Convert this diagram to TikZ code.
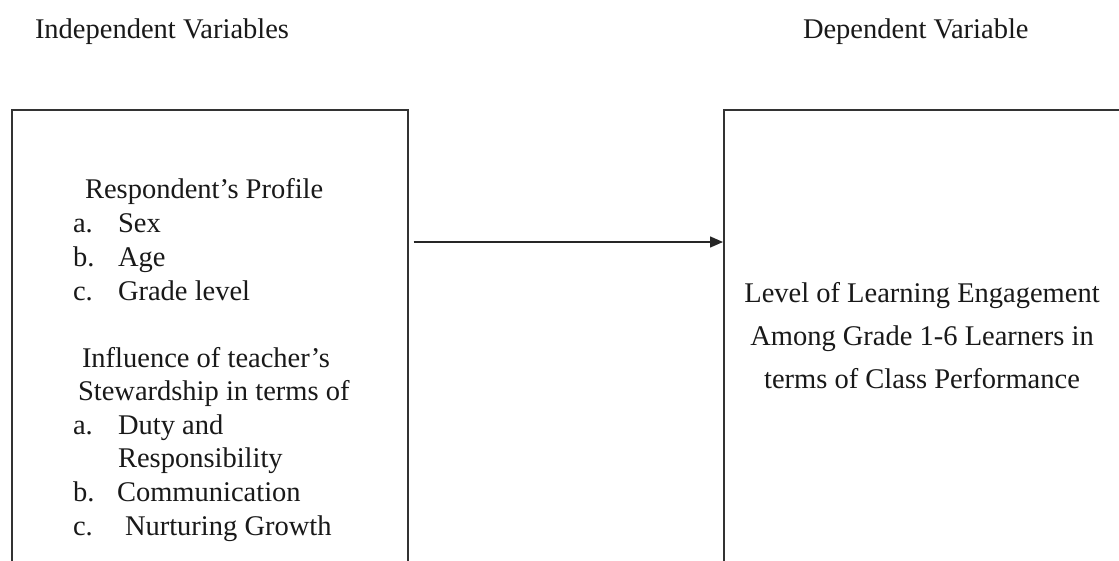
\documentclass[tikz,border=0pt]{standalone}
\usepackage{fontspec}
\setmainfont{Liberation Serif}
\usetikzlibrary{arrows.meta}
\begin{document}
\begin{tikzpicture}[x=1pt,y=-1pt,
  txt/.style={inner sep=0pt,outer sep=0pt,anchor=base west,font=\fontsize{28.5}{34}\selectfont,text=black!90},
  ctxt/.style={txt,anchor=base},
  frame/.style={draw=black!80,line width=1.6pt,rectangle,inner sep=0pt,anchor=north west},
  link/.style={draw=black!85,line width=1.4pt,-{Triangle[length=13pt,width=11pt]}}]
\useasboundingbox (0,0) rectangle (1119,560);
\clip (0,0) rectangle (1119,560);
\fill[white] (0,0) rectangle (1119,560);
% headings
\node[txt] (hind) at (35,38) {Independent Variables};
\node[txt] (hdep) at (803,38) {Dependent Variable};
% boxes
\node[frame,minimum width=396pt,minimum height=480pt] (lbox) at (11,109) {};
\node[frame,minimum width=400pt,minimum height=480pt] (rbox) at (723,109) {};
% arrow
\coordinate (ay) at (0,242);
\draw[link,shorten <=5pt] (lbox.north east |- ay) -- (rbox.north west |- ay);
% left box text
\node[txt] (t1) at (85,198) {Respondent’s Profile};
\node[txt] (l1) at (73,232) {a.};
\node[txt] (i1) at (118,232) {Sex};
\node[txt] (l2) at (73,266) {b.};
\node[txt] (i2) at (118,266) {Age};
\node[txt] (l3) at (73,300) {c.};
\node[txt] (i3) at (118,300) {Grade level};
\node[txt] (t2) at (82,367) {Influence of teacher’s};
\node[txt] (t3) at (78,400) {Stewardship in terms of};
\node[txt] (l4) at (73,434) {a.};
\node[txt] (i4) at (118,434) {Duty and};
\node[txt] (i4b) at (118,467) {Responsibility};
\node[txt] (l5) at (73,501) {b.};
\node[txt] (i5) at (117,501) {Communication};
\node[txt] (l6) at (73,535) {c.};
\node[txt] (i6) at (125,535) {Nurturing Growth};
% right box text
\node[ctxt] (r1) at (922,302) {Level of Learning Engagement};
\node[ctxt] (r2) at (922,345) {Among Grade 1-6 Learners in};
\node[ctxt] (r3) at (922,388) {terms of Class Performance};
\end{tikzpicture}
\end{document}
